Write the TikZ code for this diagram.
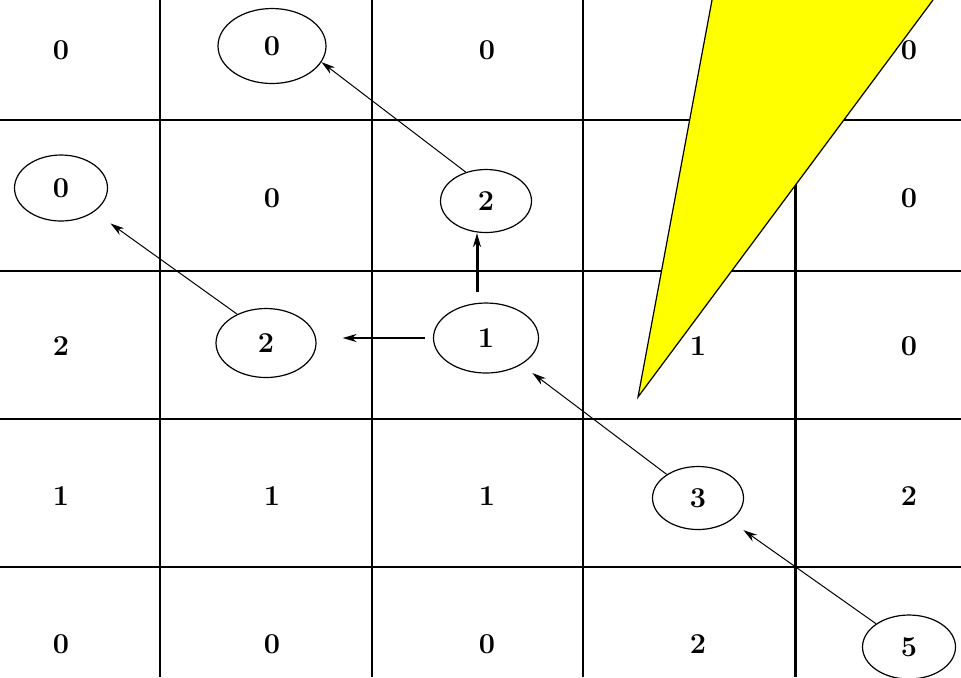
\documentclass[tikz,border=0pt]{standalone}
\usetikzlibrary{shapes.geometric,arrows.meta}
\definecolor{wedge}{RGB}{255,255,0}
\begin{document}
\begin{tikzpicture}[x=0.5pt,y=-0.5pt,font=\Large\bfseries,
    ring/.style={draw,ellipse,line width=0.6pt,inner sep=0pt},
    hop/.style={-{Stealth[length=7pt,width=4pt]},line width=0.5pt}]
  \useasboundingbox (0,0) rectangle (961,677);
  \draw[line width=1pt] (0,120) -- (961,120) (0,271) -- (961,271) (0,419) -- (961,419) (0,567) -- (961,567);
  \draw[line width=1pt] (160,0) -- (160,677) (372,0) -- (372,677) (583,0) -- (583,677);
  \draw[line width=1.5pt] (795,0) -- (795,677);
  \fill[wedge] (712,0) -- (638,397) -- (933,0) -- cycle;
  \draw[line width=0.6pt] (712,0) -- (638,397) -- (933,0);
  \node (c00) at (61,50) {0};
  \node[ring,minimum width=54pt,minimum height=37.5pt] (c01) at (272,46) {0};
  \node (c02) at (487,50) {0};
  \node (c04) at (909,50) {0};
  \node[ring,minimum width=46.5pt,minimum height=33pt] (c10) at (61,188) {0};
  \node (c11) at (272,198) {0};
  \node[ring,minimum width=45.5pt,minimum height=31.5pt] (c12) at (486,201) {2};
  \node (c14) at (909,198) {0};
  \node (c20) at (61,346) {2};
  \node[ring,minimum width=50pt,minimum height=34.5pt] (c21) at (266,343) {2};
  \node[ring,minimum width=52.5pt,minimum height=35pt] (c22) at (486,338) {1};
  \node (c23) at (698,346) {1};
  \node (c24) at (909,346) {0};
  \node (c30) at (61,496) {1};
  \node (c31) at (272,496) {1};
  \node (c32) at (487,496) {1};
  \node[ring,minimum width=45.5pt,minimum height=31.5pt] (c33) at (698,498) {3};
  \node (c34) at (909,496) {2};
  \node (c40) at (61,644) {0};
  \node (c41) at (272,644) {0};
  \node (c42) at (487,644) {0};
  \node (c43) at (698,644) {2};
  \node[ring,minimum width=46.5pt,minimum height=32pt] (c44) at (909,647) {5};
  \draw[hop,shorten >=8pt] (c44) -- (c33);
  \draw[hop,shorten >=7pt] (c33) -- (c22);
  \draw[hop,line width=1pt,shorten <=4pt,shorten >=13pt] (c22.west) -- (c22.west -| c21.east);
  \draw[hop,line width=1.5pt,shorten <=5pt] ([xshift=-4.5pt]c22.north) -- ([xshift=-4.5pt]c12.south);
  \draw[hop] (c12.125) -- (c01.-18);
  \draw[hop,shorten >=10pt] (c21.135) -- (c10);
\end{tikzpicture}
\end{document}
